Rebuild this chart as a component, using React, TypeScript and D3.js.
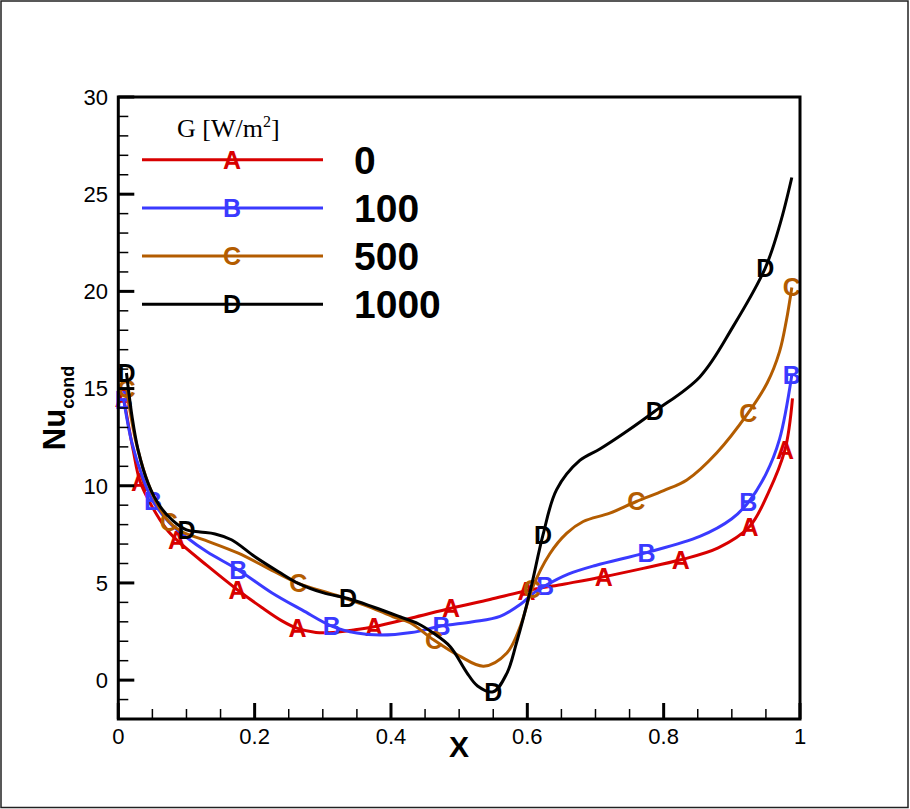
import React from "react";
import * as d3 from "d3";

// x positions / Nu values
const seriesNames = ["A", "B", "C", "D"];
const legendLabels = ["0", "100", "500", "1000"];
const seriesColors = ["#d80000", "#3a3aff", "#b35c00", "#000000"];

const pathA: [number, number][] = [
  [0.015, 13.1], [0.022, 11.8], [0.05, 8.9], [0.07, 7.8], [0.13, 5.9],
  [0.21, 3.75], [0.24, 3.05], [0.29, 2.45], [0.315, 2.45], [0.345, 2.58],
  [0.43, 3.2], [0.545, 4.15], [0.655, 4.95], [0.77, 5.75], [0.88, 6.8],
  [0.953, 9.6], [0.989, 14.5],
];
const marksA: [number, number][] = [
  [0.008, 14.5], [0.032, 10.2], [0.086, 7.2], [0.175, 4.64], [0.263, 2.66],
  [0.375, 2.75], [0.488, 3.7], [0.599, 4.6], [0.712, 5.32], [0.825, 6.19],
  [0.926, 7.9], [0.978, 11.86],
];

const pathB: [number, number][] = [
  [0.02, 12.2], [0.035, 10.5], [0.075, 8.1], [0.1, 7.35], [0.13, 6.6],
  [0.225, 4.5], [0.27, 3.6], [0.35, 2.42], [0.384, 2.32], [0.43, 2.45],
  [0.52, 3.0], [0.56, 3.28], [0.59, 3.9], [0.61, 4.5], [0.66, 5.45],
  [0.7, 5.9], [0.853, 7.39], [0.9, 8.3], [0.95, 10.6], [0.97, 12.4],
];
const marksB: [number, number][] = [
  [0.008, 14.4], [0.051, 9.19], [0.176, 5.67], [0.313, 2.78], [0.474, 2.78],
  [0.626, 4.85], [0.775, 6.56], [0.924, 9.14], [0.988, 15.7],
];

const pathC: [number, number][] = [
  [0.025, 12.4], [0.04, 10.5], [0.055, 9.2], [0.093, 7.64], [0.127, 7.2],
  [0.176, 6.53], [0.215, 5.84], [0.318, 4.38], [0.37, 3.75], [0.403, 3.26],
  [0.428, 2.95], [0.5, 1.25], [0.536, 0.72], [0.57, 1.4], [0.59, 2.8],
  [0.633, 6.5], [0.658, 7.56], [0.682, 8.16], [0.721, 8.59], [0.8, 9.75],
  [0.834, 10.3], [0.878, 11.7], [0.952, 15.3], [0.97, 16.9], [0.98, 18.5],
];
const marksC: [number, number][] = [
  [0.012, 15.0], [0.074, 8.16], [0.264, 4.98], [0.463, 2.06], [0.607, 4.7],
  [0.76, 9.19], [0.924, 13.75], [0.988, 20.2],
];

const pathD: [number, number][] = [
  [0.02, 13.6], [0.029, 11.85], [0.044, 10.1], [0.06, 9.0], [0.08, 8.2],
  [0.12, 7.62], [0.142, 7.52], [0.166, 7.22], [0.2, 6.36], [0.235, 5.58],
  [0.264, 4.98], [0.3, 4.5], [0.375, 3.75], [0.413, 3.26], [0.44, 2.9],
  [0.462, 2.42], [0.487, 1.72], [0.511, 0.4], [0.527, -0.3], [0.57, 0.35],
  [0.584, 1.9], [0.604, 4.55], [0.643, 9.8], [0.677, 11.3],
  [0.707, 11.9], [0.746, 12.8], [0.853, 15.6], [0.902, 18.2],
  [0.971, 23.5], [0.988, 25.86],
];
const marksD: [number, number][] = [
  [0.012, 15.8], [0.1, 7.73], [0.337, 4.2], [0.55, -0.6], [0.623, 7.47],
  [0.787, 13.83], [0.949, 21.2],
];

const paths = [pathA, pathB, pathC, pathD];
const marks = [marksA, marksB, marksC, marksD];

const xMajor = [0, 0.2, 0.4, 0.6, 0.8, 1];
const xTickLabels = ["0", "0.2", "0.4", "0.6", "0.8", "1"];
const yMajor = [0, 5, 10, 15, 20, 25, 30];

const W = 910;
const H = 809;
const SANS = "'Liberation Sans', Arial, Helvetica, sans-serif";
const SERIF = "'Liberation Serif', 'Times New Roman', serif";

export default function App() {
  const x = d3.scaleLinear().domain([0, 1]).range([118.3, 800]);
  const y = d3.scaleLinear().domain([-2, 30]).range([719, 97]);

  const line = d3
    .line<[number, number]>()
    .x((d) => x(d[0]))
    .y((d) => y(d[1]))
    .curve(d3.curveCatmullRom.alpha(0.5));

  const xMinor = d3.range(0, 1.0001, 0.05).filter((v) => !xMajor.some((m) => Math.abs(m - v) < 1e-6));
  const yMinor = d3.range(-2, 30.0001, 1).filter((v) => v % 5 !== 0);

  const [x0, x1] = x.range();
  const [yb, yt] = y.range();

  return (
    <svg
      width={W}
      height={H}
      style={{ position: "absolute", left: 0, top: 0, background: "#fff" }}
      fontFamily={SANS}
    >
      <rect x={1} y={1} width={W - 3} height={H - 2.5} fill="#fff" stroke="#222" strokeWidth={1.5} />

      {/* series */}
      {paths.map((p, i) => {
        const pts = [...p, ...marks[i]].sort((a, b) => a[0] - b[0]);
        return (
          <g key={seriesNames[i]}>
            <path d={line(pts) || ""} fill="none" stroke={seriesColors[i]} strokeWidth={3} />
            {marks[i].map((m, j) => (
              <text
                key={j}
                x={x(m[0])}
                y={y(m[1])}
                dy="0.36em"
                textAnchor="middle"
                fontSize={25}
                fontWeight="bold"
                fill={seriesColors[i]}
              >
                {seriesNames[i]}
              </text>
            ))}
          </g>
        );
      })}

      {/* frame */}
      <rect x={x0} y={yt} width={x1 - x0} height={yb - yt} fill="none" stroke="#000" strokeWidth={3} />

      {/* x ticks */}
      {xMajor.map((v) => (
        <line key={"xM" + v} x1={x(v)} x2={x(v)} y1={yb} y2={yb - 16} stroke="#000" strokeWidth={3} />
      ))}
      {xMinor.map((v) => (
        <line key={"xm" + v} x1={x(v)} x2={x(v)} y1={yb} y2={yb - 10} stroke="#000" strokeWidth={1.5} />
      ))}
      {xMajor.map((v, i) => (
        <text key={"xl" + v} x={x(v)} y={744} textAnchor="middle" fontSize={22}>
          {xTickLabels[i]}
        </text>
      ))}

      {/* y ticks */}
      {yMajor.map((v) => (
        <line key={"yM" + v} x1={x0} x2={x0 + 16} y1={y(v)} y2={y(v)} stroke="#000" strokeWidth={3} />
      ))}
      {yMinor.map((v) => (
        <line key={"ym" + v} x1={x0} x2={x0 + 10} y1={y(v)} y2={y(v)} stroke="#000" strokeWidth={1.5} />
      ))}
      {yMajor.map((v) => (
        <text key={"yl" + v} x={108} y={y(v)} dy="0.36em" textAnchor="end" fontSize={22}>
          {v}
        </text>
      ))}

      {/* axis titles */}
      <text x={459} y={757} textAnchor="middle" fontSize={30} fontWeight="bold">
        X
      </text>
      <text transform="translate(65,408) rotate(-90)" textAnchor="middle" fontWeight="bold" fontSize={31}>
        Nu
        <tspan fontSize={18} dy={9}>
          cond
        </tspan>
      </text>

      {/* legend */}
      <text x={177} y={136.7} fontFamily={SERIF} fontSize={26}>
        G [W/m
        <tspan fontSize={16} dy={-10}>
          2
        </tspan>
        <tspan dy={10}>]</tspan>
      </text>
      {seriesNames.map((s, i) => {
        const ly = 159.7 + i * 48.2;
        return (
          <g key={"lg" + s}>
            <line x1={142} x2={323} y1={ly} y2={ly} stroke={seriesColors[i]} strokeWidth={3} />
            <text x={232} y={ly} dy="0.36em" textAnchor="middle" fontSize={25} fontWeight="bold" fill={seriesColors[i]}>
              {s}
            </text>
            <text x={354} y={ly} dy="0.36em" fontSize={39} fontWeight="bold">
              {legendLabels[i]}
            </text>
          </g>
        );
      })}
    </svg>
  );
}
